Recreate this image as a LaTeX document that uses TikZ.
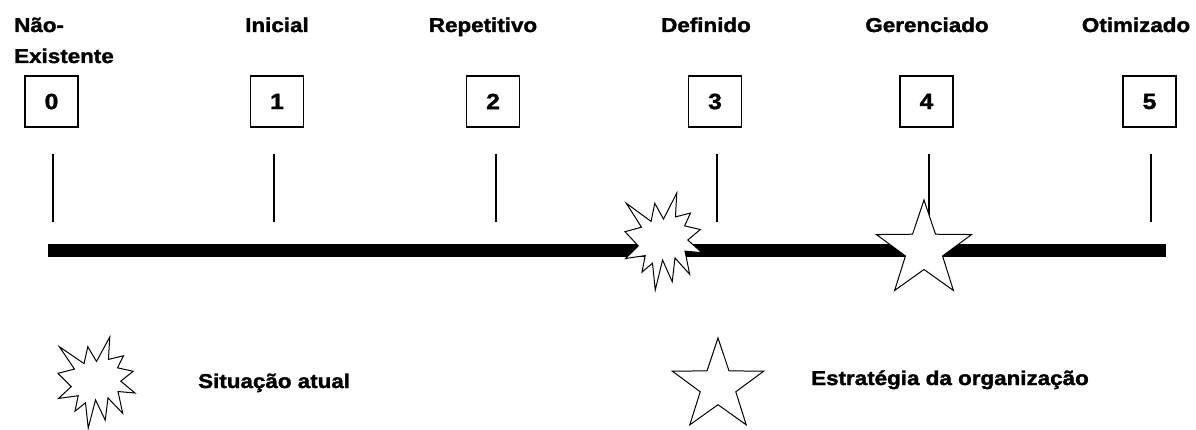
\documentclass[tikz,border=0pt]{standalone}
\usepackage{fontspec}
\setmainfont[FakeStretch=1.12, BoldFeatures={FakeBold=1.6}]{Liberation Sans}
\usetikzlibrary{calc}
\begin{document}
\begin{tikzpicture}[x=1pt,y=-1pt,
  lbl/.style={font=\fontsize{20}{22}\selectfont\bfseries, inner sep=0pt},
  lvlbox/.style={draw=black, line width=1.8pt, minimum width=53pt, minimum height=51pt, inner sep=0pt, font=\fontsize{22}{22}\selectfont\bfseries},
  tick/.style={line width=1.8pt, black},
  shapeline/.style={draw=black, line width=1pt, fill=white, line join=miter}
]
\useasboundingbox[fill=white] (0,0) rectangle (1196,430);

% level labels
\node[lbl, anchor=base west] (lab0a) at (14,32) {Não-};
\node[lbl, anchor=base west] (lab0b) at (14,63) {Existente};
\node[lbl, anchor=base] (lab1) at (277,32) {Inicial};
\node[lbl, anchor=base] (lab2) at (483,32) {Repetitivo};
\node[lbl, anchor=base] (lab3) at (706,32) {Definido};
\node[lbl, anchor=base] (lab4) at (927,32) {Gerenciado};
\node[lbl, anchor=base] (lab5) at (1136,32) {Otimizado};

% boxes
\node[lvlbox] (b0) at (51.5,101.5) {0};
\node[lvlbox] (b1) at (277,101.5) {1};
\node[lvlbox] (b2) at (493,101.5) {2};
\node[lvlbox] (b3) at (715,101.5) {3};
\node[lvlbox] (b4) at (926.5,101.5) {4};
\node[lvlbox] (b5) at (1149.5,101.5) {5};

% ticks
\foreach \i/\xx in {0/53,1/274,2/496,3/717,4/929,5/1151}{
  \coordinate (t\i a) at (\xx,154);
  \coordinate (t\i b) at (\xx,222);
  \draw[tick] (t\i a) -- (t\i b);
}

% timeline
\coordinate (lineL) at (48,250.5);
\coordinate (lineR) at (1166,250.5);
\draw[line width=12.5pt] (lineL) -- (lineR);

% explosion shape
\tikzset{
  burst/.pic={
    \path[shapeline] (50,26.85) -- (67.23,0) -- (65.53,24.65) -- (85.09,20.63) -- (77.32,33.86) -- (97.67,37.67) -- (81.51,48.50) -- (100,61.53) -- (77.95,59.92) -- (84.00,83.82) -- (64.91,66.93) -- (61.33,91.38) -- (48.76,69.14) -- (39.28,100) -- (35.72,72.35) -- (22.05,81.56) -- (26.24,64.52) -- (0.625,67.53) -- (17.23,54.51) -- (0,39.88) -- (21.42,35.26) -- (1.71,10.63) -- (33.85,29.26) -- (38.67,10.63) -- cycle;
  }
}
\pic[xshift=625pt, yshift=-193pt, xscale=0.77, yscale=0.97] (burstA) {burst};
\pic[xshift=58pt, yshift=-337pt, xscale=0.77, yscale=0.91] (burstB) {burst};

% stars
\coordinate (starA) at (924,250);
\draw[shapeline] ($(starA)+(-90:50)$)
  \foreach \k in {1,...,9}{ -- ($(starA)+({-90+36*\k}:{ifthenelse(mod(\k,2)==1,19.5,50)})$) } -- cycle;
\coordinate (starB) at (718,386);
\draw[shapeline] ($(starB)+(-90:48)$)
  \foreach \k in {1,...,9}{ -- ($(starB)+({-90+36*\k}:{ifthenelse(mod(\k,2)==1,18.7,48)})$) } -- cycle;

% legend text
\node[lbl, anchor=base west] (leg1) at (198,388) {Situação atual};
\node[lbl, anchor=base west] (leg2) at (811,385) {Estratégia da organização};
\end{tikzpicture}
\end{document}
